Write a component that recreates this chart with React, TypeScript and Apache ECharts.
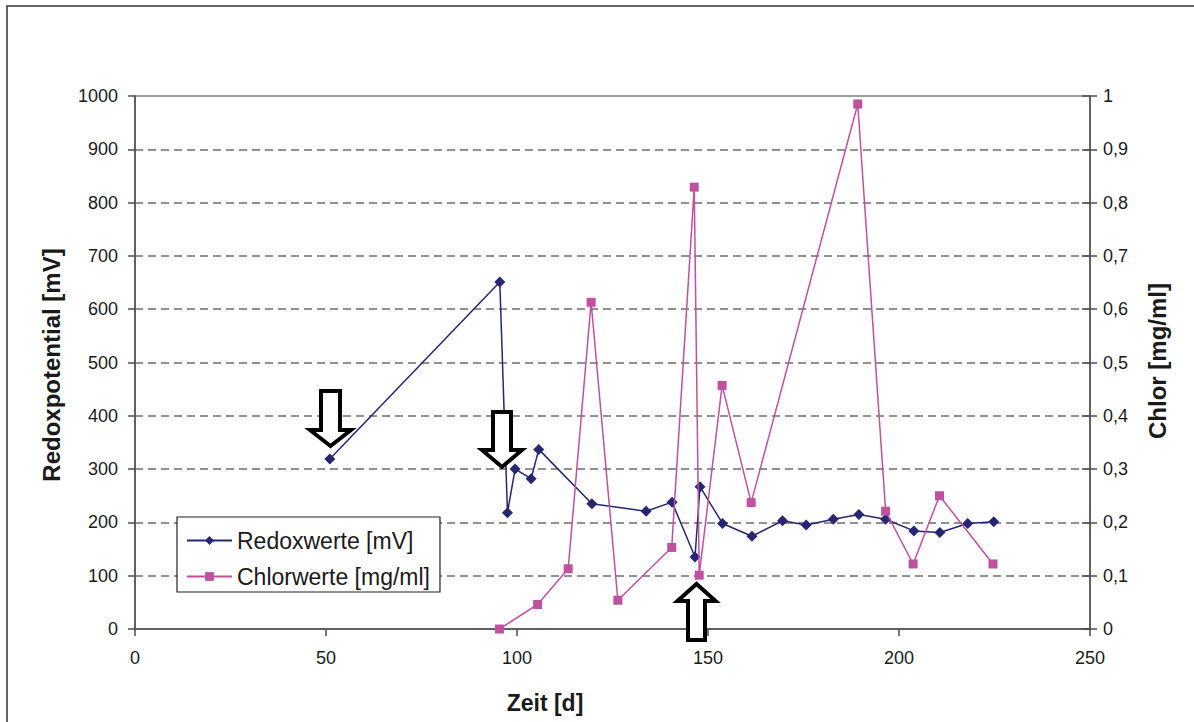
import React, { useEffect, useRef } from "react";
import * as echarts from "echarts";

const redoxDays = [51, 95.5, 97.5, 99.5, 103.7, 105.7, 119.6, 133.8, 140.6, 146.6, 147.9, 153.8, 161.5, 169.5, 175.7, 182.8, 189.5, 196.5, 203.9, 210.7, 218, 224.8];
const redoxValues = [319, 651, 218, 300, 282, 337, 235, 221, 238, 135, 267, 198, 174, 203, 195, 206, 215, 206, 184, 181, 198, 201];
const chlorDays = [95.4, 105.4, 113.4, 119.4, 126.4, 140.5, 146.4, 147.7, 153.7, 161.3, 189.2, 196.5, 203.7, 210.6, 224.6];
const chlorValues = [0, 0.046, 0.113, 0.613, 0.054, 0.153, 0.829, 0.101, 0.457, 0.237, 0.985, 0.221, 0.122, 0.25, 0.122];

const seriesNames = ["Redoxwerte [mV]", "Chlorwerte [mg/ml]"];
const xTitle = "Zeit [d]";
const yLeftTitle = "Redoxpotential [mV]";
const yRightTitle = "Chlor [mg/ml]";

const FONT = "'Liberation Sans', Arial, Helvetica, sans-serif";
const TEXT = "#1a1a1a";
const AXIS = "#4d4d4d";
const NAVY = "#262673";
const PINK = "#C050A0";

function downArrow(cx: number, top: number, headY: number, tip: number, shaftHalf: number, headHalf: number) {
  return [
    [cx - shaftHalf, top], [cx + shaftHalf, top], [cx + shaftHalf, headY], [cx + headHalf, headY],
    [cx, tip], [cx - headHalf, headY], [cx - shaftHalf, headY],
  ];
}
function upArrow(cx: number, bottom: number, headY: number, tip: number, shaftHalf: number, headHalf: number) {
  return [
    [cx - shaftHalf, bottom], [cx + shaftHalf, bottom], [cx + shaftHalf, headY], [cx + headHalf, headY],
    [cx, tip], [cx - headHalf, headY], [cx - shaftHalf, headY],
  ];
}

export default function App() {
  const ref = useRef<HTMLDivElement>(null);
  useEffect(() => {
    if (!ref.current) return;
    const chart = echarts.init(ref.current, null, { renderer: "svg" });
    const arrowStyle = { fill: "#ffffff", stroke: "#000000", lineWidth: 4, lineJoin: "miter" };
    chart.setOption({
      animation: false,
      backgroundColor: "#ffffff",
      textStyle: { fontFamily: FONT },
      grid: {
        left: 135, right: 104, top: 96, bottom: 93,
        show: true, borderColor: "#808080", borderWidth: 1.5, backgroundColor: "transparent",
        outerBoundsMode: "none",
      },
      legend: {
        orient: "vertical",
        left: 177,
        top: 517,
        data: seriesNames,
        backgroundColor: "#ffffff",
        borderColor: "#222222",
        borderWidth: 1.2,
        borderRadius: 0,
        padding: [12, 10, 4, 9],
        itemGap: 13,
        itemWidth: 45,
        itemHeight: 11,
        textStyle: { fontSize: 23, color: TEXT, fontFamily: FONT },
      },
      xAxis: {
        type: "value",
        min: 0, max: 250, interval: 50,
        axisLine: { show: true, lineStyle: { color: AXIS, width: 1.5 } },
        axisTick: { show: true, length: 7, lineStyle: { color: AXIS, width: 1.5 } },
        axisLabel: { fontSize: 18, color: TEXT, margin: 20, fontFamily: FONT, formatter: (v: number) => String(v) },
        splitLine: { show: false },
      },
      yAxis: [
        {
          type: "value", position: "left",
          min: 0, max: 1000, interval: 100,
          axisLine: { show: true, lineStyle: { color: AXIS, width: 1.5 } },
          axisTick: { show: true, length: 7, lineStyle: { color: AXIS, width: 1.5 } },
          axisLabel: { fontSize: 18, color: TEXT, margin: 17, fontFamily: FONT, formatter: (v: number) => String(v) },
          splitLine: { show: true, showMinLine: false, showMaxLine: false, lineStyle: { color: "#6e6e6e", width: 1.5, type: [8, 5] } },
        },
        {
          type: "value", position: "right",
          min: 0, max: 1, interval: 0.1,
          axisLine: { show: true, lineStyle: { color: AXIS, width: 1.5 } },
          axisTick: { show: true, length: 7, lineStyle: { color: AXIS, width: 1.5 } },
          axisLabel: {
            fontSize: 18, color: TEXT, margin: 13, fontFamily: FONT,
            formatter: (v: number) => (v === 0 || v === 1 ? String(v) : v.toFixed(1).replace(".", ",")),
          },
          splitLine: { show: false },
        },
        {
          type: "value", position: "right",
          min: 0, max: 1, interval: 0.1,
          axisLine: { show: false },
          axisTick: { show: true, inside: true, length: 8, lineStyle: { color: AXIS, width: 1.5 } },
          axisLabel: { show: false },
          splitLine: { show: false },
        },
      ],
      series: [
        {
          name: seriesNames[0],
          type: "line",
          yAxisIndex: 0,
          data: redoxDays.map((d, i) => [d, redoxValues[i]]),
          symbol: "diamond",
          symbolSize: 11,
          showAllSymbol: true,
          itemStyle: { color: NAVY },
          lineStyle: { color: NAVY, width: 1.5 },
          z: 3,
        },
        {
          name: seriesNames[1],
          type: "line",
          yAxisIndex: 1,
          data: chlorDays.map((d, i) => [d, chlorValues[i]]),
          symbol: "rect",
          symbolSize: 9,
          showAllSymbol: true,
          itemStyle: { color: PINK },
          lineStyle: { color: PINK, width: 1.5 },
          z: 4,
        },
      ],
      graphic: [
        {
          type: "rect", z: -10, silent: true,
          shape: { x: 7, y: 6, width: 1200, height: 730 },
          style: { fill: "none", stroke: "#333333", lineWidth: 1.5 },
        },
        {
          type: "text", x: 545, y: 703,
          style: { text: xTitle, fontSize: 23, fontWeight: "bold", fill: TEXT, fontFamily: FONT, textAlign: "center", textVerticalAlign: "middle" },
        },
        {
          type: "text", x: 51, y: 365, rotation: Math.PI / 2,
          style: { text: yLeftTitle, fontSize: 24, fontWeight: "bold", fill: TEXT, fontFamily: FONT, textAlign: "center", textVerticalAlign: "middle" },
        },
        {
          type: "text", x: 1157, y: 361, rotation: Math.PI / 2,
          style: { text: yRightTitle, fontSize: 24, fontWeight: "bold", fill: TEXT, fontFamily: FONT, textAlign: "center", textVerticalAlign: "middle" },
        },
        { type: "polygon", z: 100, shape: { points: downArrow(330.5, 391, 430, 446, 9.5, 20.5) }, style: arrowStyle },
        { type: "polygon", z: 100, shape: { points: downArrow(502, 412, 450, 467, 9, 20) }, style: arrowStyle },
        { type: "polygon", z: 100, shape: { points: upArrow(696.5, 640, 601, 584, 8.5, 19) }, style: arrowStyle },
      ],
    });
    return () => chart.dispose();
  }, []);
  return <div ref={ref} style={{ position: "fixed", left: 0, top: 0, width: 1194, height: 722 }} />;
}
